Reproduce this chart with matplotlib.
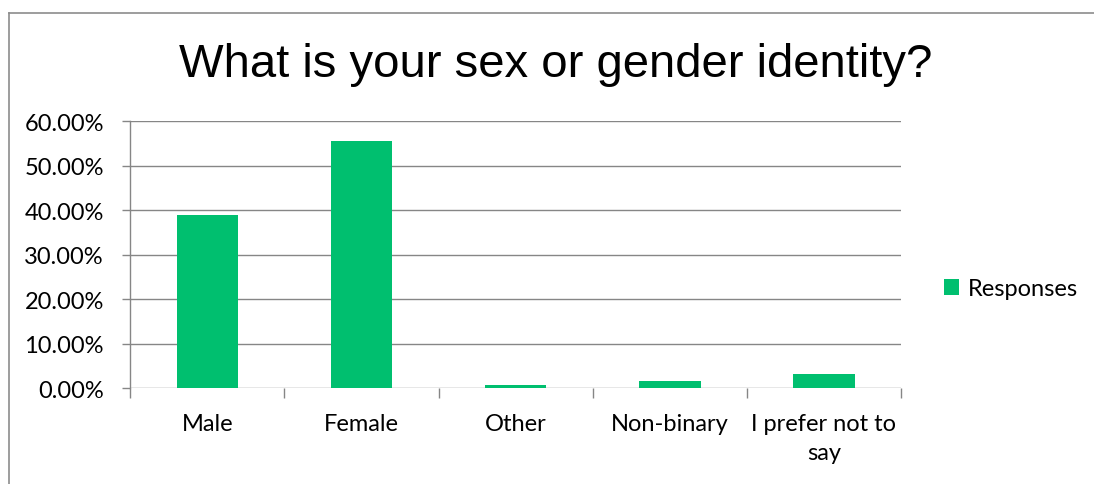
import matplotlib
matplotlib.use('Agg')
import matplotlib.pyplot as plt
from matplotlib.lines import Line2D
from matplotlib.ticker import FixedLocator, FuncFormatter

# data (percent of responses)
categories = ['Male', 'Female', 'Other', 'Non-binary', 'I prefer not to\nsay']
responses = [38.8, 55.4, 0.8, 1.6, 3.2]
y_ticks = [0, 10, 20, 30, 40, 50, 60]
title = 'What is your sex or gender identity?'
series_name = 'Responses'

bar_color = '#00BF6F'
grid_color = '#868686'
label_font = 'Lato'

fig = plt.figure(figsize=(10.94, 4.85), dpi=100)
ax = fig.add_axes([130.3 / 1094, 1 - 389.3 / 485, (901 - 130.3) / 1094, (389.3 - 122) / 485])

x = list(range(len(categories)))
ax.bar(x, responses, width=0.4, color=bar_color, label=series_name, zorder=3)

ax.set_xlim(-0.5, len(categories) - 0.5)
ax.set_ylim(y_ticks[0], y_ticks[-1])
ax.set_yticks(y_ticks)
ax.yaxis.set_major_formatter(FuncFormatter(lambda v, p: f'{v:.2f}%'))
ax.grid(axis='y', color=grid_color, linewidth=1.0, zorder=0)

ax.set_xticks(x)
ax.set_xticklabels(categories, fontfamily=label_font, fontsize=17, linespacing=1.45)
ax.xaxis.set_minor_locator(FixedLocator([i - 0.5 for i in range(len(categories) + 1)]))
ax.tick_params(axis='x', which='major', length=0, pad=18)
ax.tick_params(axis='x', which='minor', length=7, color=grid_color, width=1.0)
ax.tick_params(axis='y', length=6, color=grid_color, width=1.0, pad=13, labelsize=17)
for lbl in ax.get_yticklabels():
    lbl.set_fontfamily(label_font)

for side in ['top', 'right', 'bottom']:
    ax.spines[side].set_visible(False)
ax.spines['left'].set_color(grid_color)
ax.spines['left'].set_linewidth(1.0)

fig.text(556 / 1094, 1 - 77 / 485, title, ha='center', va='baseline',
         fontsize=34, fontfamily='Liberation Sans')

fig.legend(loc='center left', bbox_to_anchor=(944 / 1094, 1 - 290 / 485),
           frameon=False, borderpad=0, borderaxespad=0,
           handlelength=0.65, handleheight=0.65, handletextpad=0.35,
           prop={'family': label_font, 'size': 17})

# outer chart border, cropped on the right and bottom in the reference
border_x = 8.5 / 1094
border_y = 1 - 13.5 / 485
fig.add_artist(Line2D([border_x, 1.05], [border_y, border_y], transform=fig.transFigure,
                      color='#8c8c8c', linewidth=1.2))
fig.add_artist(Line2D([border_x, border_x], [-0.05, border_y], transform=fig.transFigure,
                      color='#8c8c8c', linewidth=1.2))

fig.savefig('out.png', dpi=100)
